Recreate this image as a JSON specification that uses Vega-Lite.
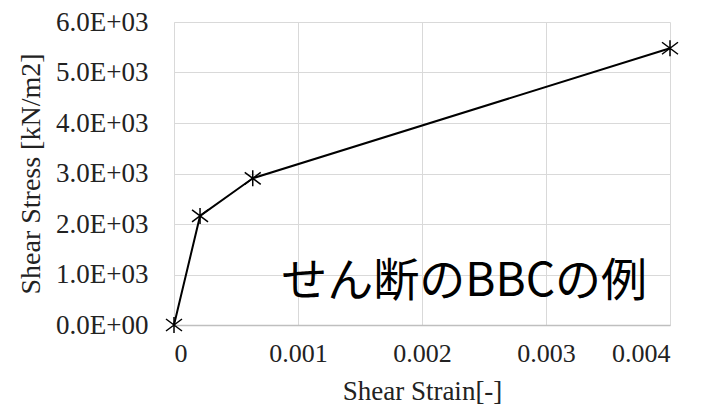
{
  "$schema": "https://vega.github.io/schema/vega-lite/v6.json",
  "autosize": "none",
  "width": 496,
  "height": 303,
  "padding": {"left": 174, "top": 22, "right": 35, "bottom": 87},
  "background": "white",
  "config": {"view": {"stroke": null}, "font": "Liberation Serif"},
  "datasets": {
    "curve": [
      {"strain": 0, "stress": 0},
      {"strain": 0.00021, "stress": 2160},
      {"strain": 0.000635, "stress": 2905},
      {"strain": 0.004, "stress": 5480}
    ],
    "note": [
      {"strain": 0.00234, "stress": 850, "label": "せん断のBBCの例"}
    ]
  },
  "layer": [
    {
      "data": {"name": "curve"},
      "mark": {"type": "line", "color": "black", "strokeWidth": 2},
      "encoding": {
        "x": {
          "field": "strain", "type": "quantitative",
          "scale": {"domain": [0, 0.004], "nice": false},
          "axis": {
            "values": [0, 0.001, 0.002, 0.003, 0.004],
            "labelExpr": "datum.value == 0 ? '0' : format(datum.value, '.3f')",
            "title": "Shear  Strain[-]",
            "titleFont": "Liberation Serif", "titleFontSize": 27, "titleFontWeight": "normal", "titleColor": "#222",
            "titlePadding": 12,
            "labelFont": "Liberation Serif", "labelFontSize": 26, "labelColor": "#222",
            "labelPadding": 15,
            "ticks": false,
            "grid": true, "gridColor": "#d9d9d9", "gridWidth": 1,
            "domainColor": "#bfbfbf", "domainWidth": 1.5
          }
        },
        "y": {
          "field": "stress", "type": "quantitative",
          "scale": {"domain": [0, 6000], "nice": false},
          "axis": {
            "values": [0, 1000, 2000, 3000, 4000, 5000, 6000],
            "labelExpr": "datum.value == 0 ? '0.0E+00' : format(datum.value / 1000, '.1f') + 'E+03'",
            "title": "Shear  Stress  [kN/m2]",
            "titleFont": "Liberation Serif", "titleFontSize": 28, "titleFontWeight": "normal", "titleColor": "#222",
            "titlePadding": 10,
            "labelFont": "Liberation Serif", "labelFontSize": 27, "labelColor": "#222",
            "labelPadding": 26,
            "ticks": false,
            "grid": true, "gridColor": "#d9d9d9", "gridWidth": 1,
            "domainColor": "#d9d9d9", "domainWidth": 1
          }
        }
      }
    },
    {
      "data": {"name": "curve"},
      "mark": {
        "type": "point",
        "shape": "M-1,-0.75L1,0.75M1,-0.75L-1,0.75M0,-1L0,1",
        "filled": false, "stroke": "black", "strokeWidth": 1.5, "size": 256, "opacity": 1
      },
      "encoding": {
        "x": {"field": "strain", "type": "quantitative"},
        "y": {"field": "stress", "type": "quantitative"}
      }
    },
    {
      "data": {"name": "note"},
      "mark": {
        "type": "text", "font": "Noto Sans CJK JP", "fontSize": 46,
        "color": "black", "align": "center", "baseline": "middle"
      },
      "encoding": {
        "x": {"field": "strain", "type": "quantitative"},
        "y": {"field": "stress", "type": "quantitative"},
        "text": {"field": "label"}
      }
    }
  ]
}
